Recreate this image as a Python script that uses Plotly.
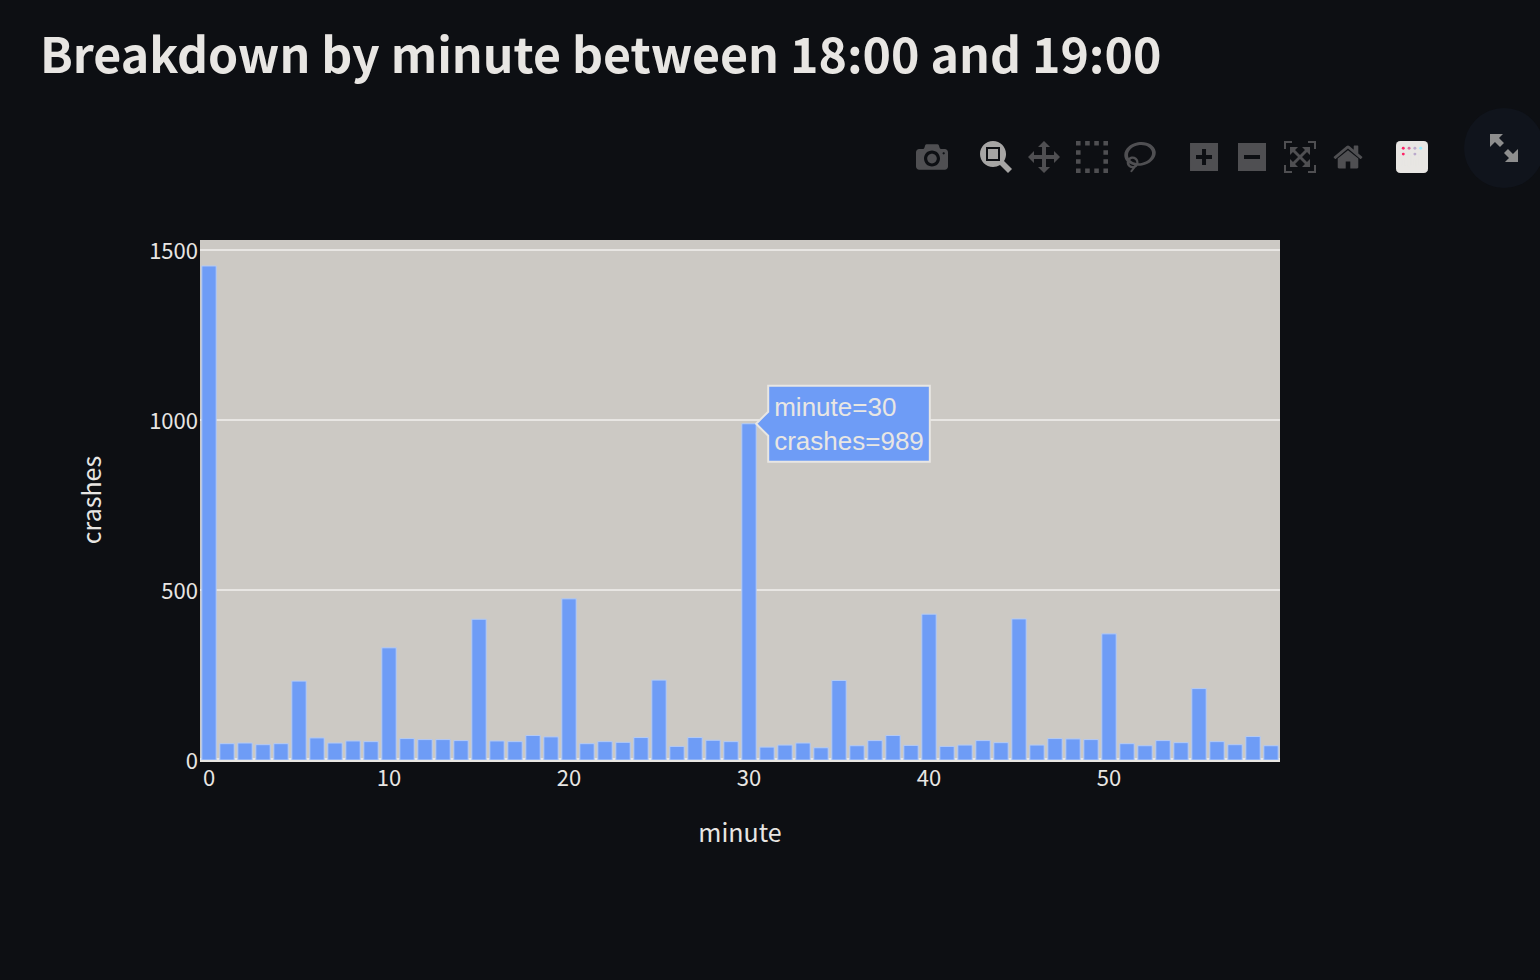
import plotly.graph_objects as go

minutes = list(range(60))
crashes = [1453, 48, 50, 45, 48, 232, 65, 50, 56, 54,
           330, 63, 60, 60, 57, 414, 56, 54, 72, 68,
           474, 48, 54, 52, 66, 235, 40, 66, 58, 54,
           989, 38, 44, 50, 36, 234, 42, 57, 72, 43,
           429, 40, 44, 57, 51, 415, 44, 63, 62, 60,
           371, 48, 42, 57, 51, 210, 54, 45, 69, 42]
x_ticks = [0, 10, 20, 30, 40, 50]
y_ticks = [0, 500, 1000, 1500]

BG = "#0d0f13"
TXT = "#e8e6e3"
BAR = "#6e9cf6"
FONT = "Noto Sans CJK SC, Noto Sans, sans-serif"
PL, PR, PT, PB = 200, 1280, 240, 760


def px(x):
    return (x - PL) / (PR - PL)


def py(y):
    return (PB - y) / (PB - PT)


def path(points):
    return "M " + " L ".join(f"{px(a):.5f},{py(b):.5f}" for a, b in points) + " Z"


fig = go.Figure(go.Bar(
    x=minutes, y=crashes,
    marker=dict(color=BAR, line=dict(color="#b4cbf5", width=1)),
    hovertemplate="minute=%{x}<br>crashes=%{y}<extra></extra>",
))

icon = "#8e8e8e"
shapes = [
    dict(type="circle", xref="paper", yref="paper", layer="below",
         x0=px(1464), x1=px(1544), y0=py(188), y1=py(108),
         fillcolor="#10141c", line=dict(width=0)),
    dict(type="path", xref="paper", yref="paper", line=dict(width=0), fillcolor=icon,
         path=path([(1490, 134), (1503, 134), (1499, 138), (1504, 143), (1500, 147), (1495, 142), (1490, 147)])),
    dict(type="path", xref="paper", yref="paper", line=dict(width=0), fillcolor=icon,
         path=path([(1518, 162), (1505, 162), (1509, 158), (1504, 153), (1508, 149), (1513, 154), (1518, 149)])),
]

fig.update_layout(
    width=1540, height=980,
    margin=dict(l=PL, r=1540 - PR, t=PT, b=980 - PB, pad=0),
    paper_bgcolor=BG, plot_bgcolor="#ccc9c4",
    font=dict(family=FONT, color=TXT, size=22),
    title=dict(text="Breakdown by minute between 18:00 and 19:00",
               x=40 / 1540, xanchor="left", y=1 - 56 / 980, yanchor="middle",
               font=dict(family=FONT, size=48.25, color=TXT, weight=600)),
    bargap=0.2, showlegend=False, hovermode="closest", dragmode="zoom",
    hoverlabel=dict(bgcolor=BAR, bordercolor=TXT, align="left",
                    font=dict(family="Arial, Liberation Sans, sans-serif", size=13, color=TXT)),
    modebar=dict(bgcolor="rgba(0,0,0,0)", color="rgba(232,230,227,0.3)",
                 activecolor="rgba(232,230,227,0.7)"),
    shapes=shapes,
    xaxis=dict(title=dict(text="minute", font=dict(size=25), standoff=33),
               range=[-0.5, 59.5], tickmode="array", tickvals=x_ticks,
               showgrid=False, zeroline=False, ticks="", tickfont=dict(size=22),
               ticklabelstandoff=3, automargin=False),
    yaxis=dict(title=dict(text="crashes", font=dict(size=25), standoff=40),
               range=[0, 1529.4], tickmode="array", tickvals=y_ticks,
               gridcolor=TXT, gridwidth=2, zeroline=True, zerolinecolor=TXT, zerolinewidth=4,
               ticks="", tickfont=dict(size=22), ticklabelstandoff=1, ticklabelshift=1,
               automargin=False),
)

post = """
document.documentElement.style.background = '#0d0f13';
document.body.style.margin = '0';
document.body.style.background = '#0d0f13';
document.body.style.overflow = 'hidden';
var st = document.createElement('style');
st.textContent = `
.js-plotly-plot .plotly .modebar {top:135px !important; right:104px !important; transform:scale(2); transform-origin:top right;}
.js-plotly-plot .plotly .modebar-group {background:transparent !important;}
.js-plotly-plot .plotly a.modebar-btn svg rect, .js-plotly-plot .plotly a.modebar-btn svg path, .js-plotly-plot .plotly a.modebar-btn svg line {fill:#e8e6e3 !important; stroke:#e8e6e3 !important;}
`;
document.head.appendChild(st);
var gd = document.getElementById('{plot_id}');
Plotly.Fx.hover(gd, [{curveNumber:0, pointNumber:30}]);
var ht = gd.querySelector('.hoverlayer .hovertext');
if (ht) { ht.setAttribute('transform', ht.getAttribute('transform') + ' scale(2)'); }
"""

fig.write_html("out.html", config=dict(displayModeBar=True, displaylogo=True), post_script=post)
